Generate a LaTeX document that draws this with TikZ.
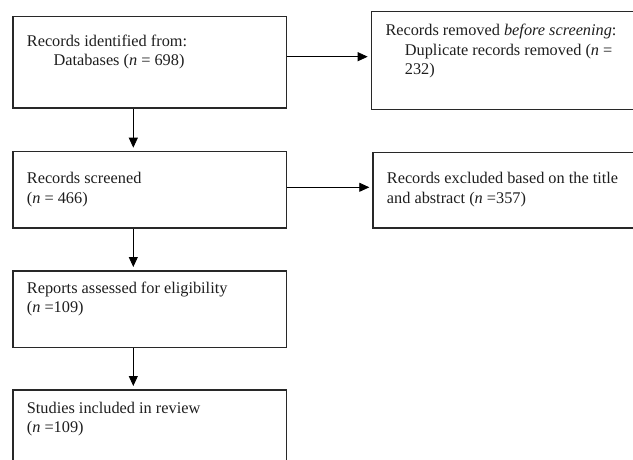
\documentclass[tikz,border=0pt]{standalone}
\usepackage{fontspec}
\setmainfont{Liberation Serif}
\usetikzlibrary{arrows.meta,calc}
\definecolor{boxline}{RGB}{40,40,40}
\definecolor{txtcol}{RGB}{30,30,30}
\tikzset{
  box/.style={draw=boxline, line width=1.5pt, rectangle, inner sep=0pt, anchor=north west},
  txt/.style={anchor=base west, inner sep=0pt, text=txtcol, font=\fontsize{16.3}{19.6}\selectfont},
  arr/.style={draw=black, line width=0.8pt, -{Triangle[length=10pt,width=9pt]}, shorten >=3pt}
}
\begin{document}
\begin{tikzpicture}[x=1pt,y=1pt]
\useasboundingbox (0,0) rectangle (633,-460);
\clip (0,0) rectangle (633,-460);
% boxes
\node[box, minimum width=273.4pt, minimum height=91.3pt] (b1) at (12.3,-16) {};
\node[box, minimum width=280pt, minimum height=98pt] (b2) at (370.7,-10.7) {};
\node[box, minimum width=273.4pt, minimum height=76.6pt] (b3) at (12.3,-150.7) {};
\node[box, minimum width=280pt, minimum height=75.6pt] (b4) at (372.3,-151.7) {};
\node[box, minimum width=273.4pt, minimum height=76.7pt] (b5) at (12.3,-270) {};
\node[box, minimum width=273.4pt, minimum height=100pt] (b6) at (12.3,-389) {};
% texts
\node[txt] (t1a) at ($(b1.north west)+(14.4,-30.5)$) {Records identified from:};
\node[txt] (t1b) at ($(b1.north west)+(41,-50)$) {Databases (\textit{n} = 698)};
\node[txt] (t2a) at ($(b2.north west)+(14.6,-24.8)$) {Records removed \textit{before screening}:};
\node[txt] (t2b) at ($(b2.north west)+(34,-44.4)$) {Duplicate records removed (\textit{n} =};
\node[txt] (t2c) at ($(b2.north west)+(34,-64)$) {232)};
\node[txt] (t3a) at ($(b3.north west)+(14.4,-33)$) {Records screened};
\node[txt] (t3b) at ($(b3.north west)+(14.4,-52.6)$) {(\textit{n} = 466)};
\node[txt] (t4a) at ($(b4.north west)+(14.4,-32)$) {Records excluded based on the title};
\node[txt] (t4b) at ($(b4.north west)+(14.4,-51.6)$) {and abstract (\textit{n} =357)};
\node[txt] (t5a) at ($(b5.north west)+(14.4,-23)$) {Reports assessed for eligibility};
\node[txt] (t5b) at ($(b5.north west)+(14.4,-42.6)$) {(\textit{n} =109)};
\node[txt] (t6a) at ($(b6.north west)+(14.4,-24)$) {Studies included in review};
\node[txt] (t6b) at ($(b6.north west)+(14.4,-43.6)$) {(\textit{n} =109)};
% connectors
\draw[arr] ([yshift=-40.7pt]b1.north east) -- ([yshift=-40.7pt]b1.north east -| b2.west);
\draw[arr] ([yshift=-36.6pt]b3.north east) -- ([yshift=-36.6pt]b3.north east -| b4.west);
\draw[arr] ([xshift=121pt]b1.south west) -- ([xshift=121pt]b3.north west);
\draw[arr] ([xshift=121pt]b3.south west) -- ([xshift=121pt]b5.north west);
\draw[arr] ([xshift=121pt]b5.south west) -- ([xshift=121pt]b6.north west);
\end{tikzpicture}
\end{document}
